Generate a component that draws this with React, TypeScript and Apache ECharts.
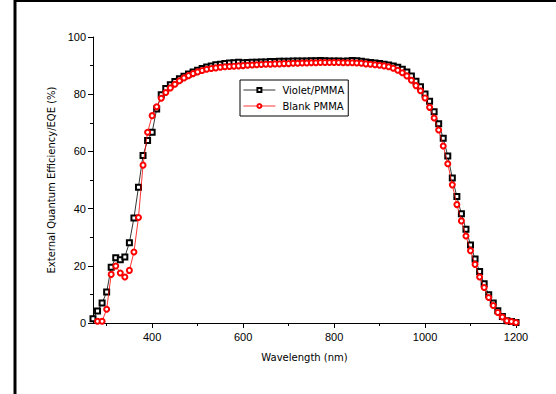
import React, { useEffect, useRef } from "react";
import * as echarts from "echarts";

const wavelengths = [
  270, 280, 290, 300, 310, 320, 330, 340, 350, 360, 370, 380, 390, 400, 410, 420, 430, 440, 450, 460,
  470, 480, 490, 500, 510, 520, 530, 540, 550, 560, 570, 580, 590, 600, 610, 620, 630, 640, 650, 660,
  670, 680, 690, 700, 710, 720, 730, 740, 750, 760, 770, 780, 790, 800, 810, 820, 830, 840, 850, 860,
  870, 880, 890, 900, 910, 920, 930, 940, 950, 960, 970, 980, 990, 1000, 1010, 1020, 1030, 1040, 1050, 1060,
  1070, 1080, 1090, 1100, 1110, 1120, 1130, 1140, 1150, 1160, 1170, 1180, 1190, 1200,
];

const violetPMMA = [
  1.5, 4.2, 7.0, 10.8, 19.5, 22.8, 22.1, 23.1, 28.1, 36.7, 47.5, 58.6, 63.8, 66.7, 74.8, 79.8, 82.0, 83.3, 84.4, 85.4,
  86.3, 87.1, 87.8, 88.4, 89.0, 89.5, 89.9, 90.3, 90.5, 90.7, 90.9, 91.0, 91.2, 91.0, 91.1, 91.2, 91.2, 91.3, 91.3, 91.4,
  91.4, 91.5, 91.5, 91.5, 91.6, 91.6, 91.6, 91.6, 91.7, 91.7, 91.8, 91.7, 91.6, 91.6, 91.6, 91.5, 91.6, 91.8, 91.7, 91.5,
  91.3, 91.1, 90.9, 90.7, 90.5, 90.2, 89.9, 89.4, 88.7, 87.8, 86.4, 84.5, 82.6, 80.1, 77.5, 73.9, 69.7, 64.6, 58.4, 50.7,
  44.2, 38.2, 32.8, 27.3, 22.4, 18.0, 13.7, 9.9, 7.0, 4.3, 2.3, 0.8, 0.5, 0.2,
];

const blankPMMA = [
  null, 0.6, 0.6, 4.8, 17.0, 19.9, 17.5, 16.1, 18.4, 24.8, 36.9, 55.2, 66.7, 72.5, 75.6, 78.6, 80.6, 82.2, 83.5, 84.7,
  85.7, 86.5, 87.2, 87.8, 88.3, 88.7, 89.0, 89.2, 89.4, 89.6, 89.7, 89.8, 89.9, 90.0, 90.1, 90.2, 90.3, 90.4, 90.5, 90.5,
  90.6, 90.6, 90.7, 90.7, 90.8, 90.8, 90.9, 90.9, 91.0, 91.0, 91.1, 91.1, 91.1, 91.1, 91.1, 91.0, 91.0, 91.0, 90.9, 90.8,
  90.6, 90.5, 90.3, 90.1, 89.9, 89.6, 89.1, 88.4, 87.5, 86.4, 84.9, 83.0, 81.2, 78.7, 75.4, 71.7, 67.5, 61.9, 55.7, 48.3,
  41.4, 35.7, 30.4, 25.3, 20.5, 16.1, 12.4, 8.9, 6.1, 3.7, 2.1, 0.8, 0.5, 0.2,
];

const xMajorTicks = [400, 600, 800, 1000, 1200];
const xMinorTicks = [300, 500, 700, 900, 1100];

export default function App() {
  const ref = useRef<HTMLDivElement>(null);
  useEffect(() => {
    if (!ref.current) return;
    const chart = echarts.init(ref.current, null, { renderer: "svg" });
    const labelFont = "'Liberation Sans', Arial, sans-serif";
    const nameFont = "'DejaVu Sans', sans-serif";
    chart.setOption({
      animation: false,
      backgroundColor: "#ffffff",
      grid: { left: 93, top: 37, right: 40, bottom: 71, containLabel: false },
      legend: {
        orient: "vertical",
        left: 240,
        top: 80,
        borderColor: "#000",
        borderWidth: 1,
        padding: [5, 4, 5, 3],
        itemGap: 6,
        itemWidth: 32,
        itemHeight: 5,
        textStyle: { fontFamily: nameFont, fontSize: 10, color: "#000", padding: [0, 0, 0, 2] },
        data: [
          { name: "Violet/PMMA", itemStyle: { borderWidth: 0.6 }, lineStyle: { width: 0.8 } },
          { name: "Blank PMMA", itemStyle: { borderWidth: 0.6 }, lineStyle: { width: 0.8 } },
        ],
      },
      xAxis: [
        {
          type: "value",
          min: 270,
          max: 1200,
          name: "Wavelength (nm)",
          nameLocation: "middle",
          nameGap: 29,
          nameTextStyle: { fontFamily: nameFont, fontSize: 10, color: "#000" },
          axisLine: { lineStyle: { color: "#000", width: 1 } },
          axisTick: { show: true, inside: false, length: 5, customValues: xMajorTicks, lineStyle: { color: "#000" } },
          axisLabel: {
            customValues: xMajorTicks,
            formatter: (v: number) => String(v),
            fontFamily: labelFont,
            fontSize: 11,
            color: "#000",
            margin: 8,
          },
          splitLine: { show: false },
        },
        {
          type: "value",
          min: 270,
          max: 1200,
          position: "bottom",
          axisLine: { show: false },
          axisTick: { show: true, inside: false, length: 3, customValues: xMinorTicks, lineStyle: { color: "#000" } },
          axisLabel: { show: false },
          splitLine: { show: false },
        },
      ],
      yAxis: {
        type: "value",
        min: 0,
        max: 100,
        interval: 20,
        name: "External Quantum Efficiency/EQE (%)",
        nameLocation: "middle",
        nameGap: 37,
        nameTextStyle: { fontFamily: nameFont, fontSize: 10, color: "#000" },
        axisLine: { show: true, lineStyle: { color: "#000", width: 1 } },
        axisTick: { show: true, inside: false, length: 5, lineStyle: { color: "#000" } },
        minorTick: { show: true, splitNumber: 2, length: 3, lineStyle: { color: "#000" } },
        axisLabel: { fontFamily: labelFont, fontSize: 11, color: "#000", margin: 7 },
        splitLine: { show: false },
      },
      series: [
        {
          name: "Violet/PMMA",
          type: "line",
          xAxisIndex: 0,
          data: wavelengths.map((w, i) => [w, violetPMMA[i]]),
          symbol: "emptyRect",
          symbolSize: 5,
          showAllSymbol: true,
          lineStyle: { color: "#000", width: 0.8 },
          itemStyle: { color: "#000", borderWidth: 0.6 },
          z: 3,
        },
        {
          name: "Blank PMMA",
          type: "line",
          xAxisIndex: 0,
          data: wavelengths.map((w, i) => [w, blankPMMA[i]]),
          symbol: "emptyCircle",
          symbolSize: 5,
          showAllSymbol: true,
          connectNulls: false,
          lineStyle: { color: "#ff0000", width: 0.8 },
          itemStyle: { color: "#ff0000", borderWidth: 0.6 },
          z: 4,
        },
      ],
      graphic: [
        { type: "line", shape: { x1: 15, y1: 0, x2: 15, y2: 394 }, style: { stroke: "#000", lineWidth: 3 } },
        { type: "line", shape: { x1: 14, y1: 1, x2: 556, y2: 1 }, style: { stroke: "#000", lineWidth: 2 } },
      ],
    });
    return () => chart.dispose();
  }, []);
  return (
    <div
      ref={ref}
      style={{ position: "fixed", left: 0, top: 0, width: 556, height: 394, background: "#fff" }}
    />
  );
}
